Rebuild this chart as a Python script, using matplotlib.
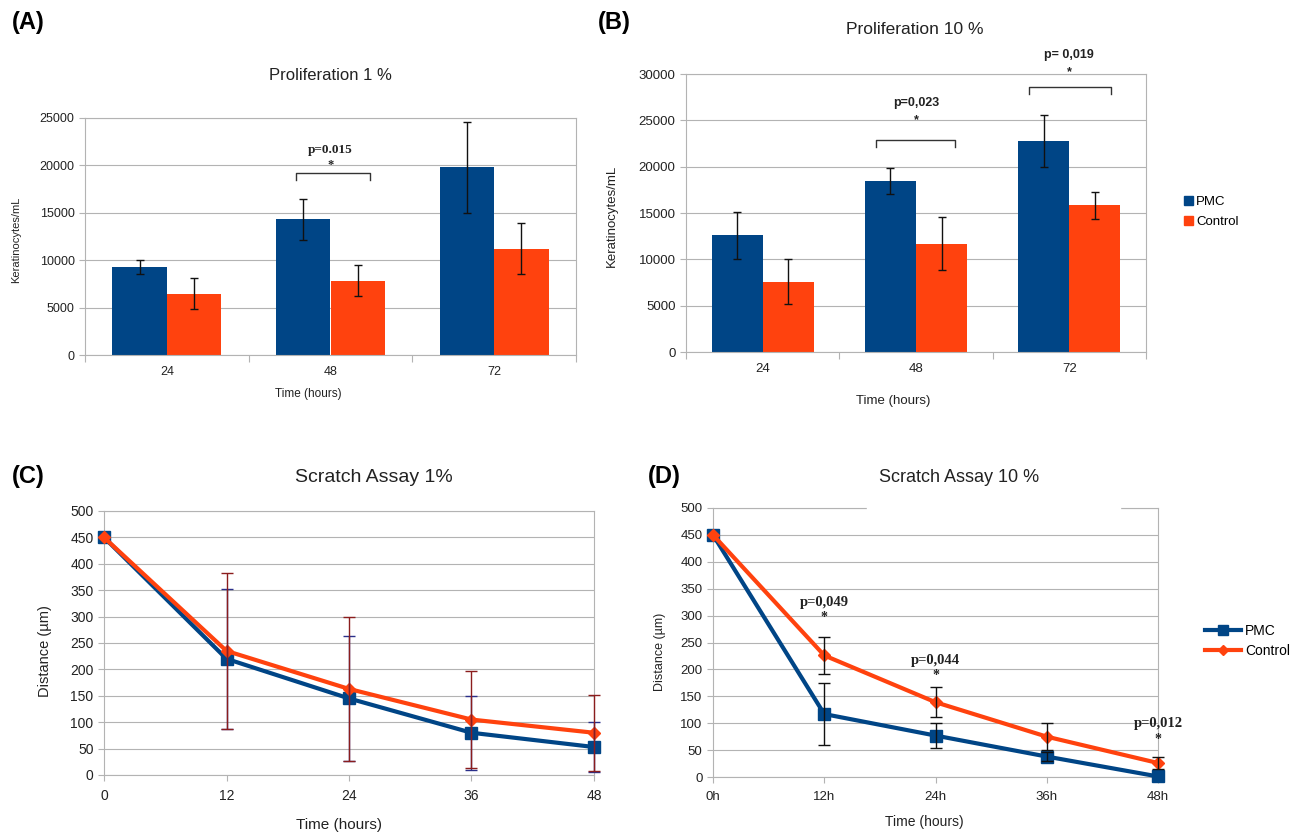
import numpy as np
import matplotlib
matplotlib.use('Agg')
import matplotlib.pyplot as plt
from matplotlib.patches import Patch, Rectangle
from matplotlib.lines import Line2D

plt.rcParams['font.family'] = ['Liberation Sans', 'DejaVu Sans']

W, H = 1293, 834
NAVY = '#004586'
ORANGE = '#ff420e'
GRID = '#b3b3b3'
TXT = '#222222'

# proliferation data (keratinocytes/mL)
prolif_hours = ['24', '48', '72']
pmc_1 = [9250, 14300, 19800]
pmc_1_err = [750, 2200, 4800]
ctrl_1 = [6450, 7850, 11200]
ctrl_1_err = [1650, 1650, 2700]

pmc_10 = [12600, 18450, 22800]
pmc_10_err = [2550, 1450, 2800]
ctrl_10 = [7600, 11700, 15850]
ctrl_10_err = [2450, 2900, 1450]

# scratch assay data (distance, um)
scratch_hours = [0, 12, 24, 36, 48]
scr_pmc_1 = [450, 220, 145, 80, 53]
scr_pmc_1_err = [0, 132, 119, 70, 47]
scr_ctrl_1 = [450, 235, 163, 105, 80]
scr_ctrl_1_err = [0, 147, 136, 92, 72]

scr_labels_10 = ['0h', '12h', '24h', '36h', '48h']
scr_pmc_10 = [450, 117, 77, 38, 1]
scr_pmc_10_err = [0, 58, 23, 9, 0]
scr_ctrl_10 = [450, 226, 139, 75, 26]
scr_ctrl_10_err = [0, 35, 28, 25, 11]

fig = plt.figure(figsize=(W / 100, H / 100), dpi=100)


def px_axes(l, r, t, b):
    return fig.add_axes([l / W, 1 - b / H, (r - l) / W, (b - t) / H])


def style_axes(ax, tick_size):
    for s in ax.spines.values():
        s.set_color(GRID)
        s.set_linewidth(0.8)
    ax.yaxis.grid(True, color=GRID, linewidth=0.8)
    ax.set_axisbelow(True)
    ax.tick_params(axis='both', colors=GRID, labelcolor=TXT, labelsize=tick_size,
                   length=4, width=0.8, direction='out')


def bar_panel(ax, pmc, pmc_err, ctrl, ctrl_err, ymax, tick_size):
    x = np.arange(len(prolif_hours))
    w = 0.333
    ax.bar(x - w / 2, pmc, w, color=NAVY, zorder=2)
    ax.bar(x + w / 2, ctrl, w, color=ORANGE, zorder=2)
    ax.errorbar(x - w / 2, pmc, yerr=pmc_err, fmt='none', ecolor='#111111',
                elinewidth=1, capsize=3, capthick=1, zorder=3)
    ax.errorbar(x + w / 2, ctrl, yerr=ctrl_err, fmt='none', ecolor='#111111',
                elinewidth=1, capsize=3, capthick=1, zorder=3)
    ax.set_xlim(-0.5, len(prolif_hours) - 0.5)
    ax.set_ylim(0, ymax)
    ax.set_yticks(np.arange(0, ymax + 1, 5000))
    ax.set_xticks(x)
    ax.set_xticklabels(prolif_hours)
    ax.set_xticks(np.arange(-0.5, len(prolif_hours)), minor=True)
    style_axes(ax, tick_size)
    ax.tick_params(axis='x', which='major', length=0, pad=8)
    ax.tick_params(axis='x', which='minor', length=5, colors=GRID, width=0.8)


def bracket(ax, xc, x0, x1, ytop, ytip):
    ax.plot([xc + x0, xc + x0, xc + x1, xc + x1], [ytip, ytop, ytop, ytip],
            color='#333333', lw=1, zorder=4, clip_on=False)


# (A) Proliferation 1 %
axA = px_axes(85, 576, 118, 355)
bar_panel(axA, pmc_1, pmc_1_err, ctrl_1, ctrl_1_err, 25000, 9)
bracket(axA, 1, -0.21, 0.24, 19200, 18450)
axA.text(1, 21600, 'p=0.015', ha='center', va='center', fontsize=9.5,
         fontweight='bold', family='Liberation Serif', color='#222222')
axA.text(1, 20000, '*', ha='center', va='center', fontsize=9,
         fontweight='bold', family='Liberation Serif', color='#222222')
fig.text(330 / W, 1 - 76 / H, 'Proliferation 1 %', ha='center', va='center',
         fontsize=12, color=TXT)
fig.text(16 / W, 1 - 240 / H, 'Keratinocytes/mL', ha='center', va='center',
         rotation=90, fontsize=8, color=TXT)
fig.text(308 / W, 1 - 394 / H, 'Time (hours)', ha='center', va='center',
         fontsize=8.5, color=TXT)

# (B) Proliferation 10 %
axB = px_axes(686, 1146, 74, 352)
bar_panel(axB, pmc_10, pmc_10_err, ctrl_10, ctrl_10_err, 30000, 9.5)
bracket(axB, 1, -0.26, 0.255, 22900, 22100)
bracket(axB, 2, -0.26, 0.27, 28600, 27850)
for xc, y_p, y_s, lab in [(1, 26900, 25000, 'p=0,023'), (2, 32050, 30200, 'p= 0,019')]:
    axB.text(xc, y_p, lab, ha='center', va='center', fontsize=9,
             fontweight='bold', color='#222222', clip_on=False)
    axB.text(xc, y_s, '*', ha='center', va='center', fontsize=9,
             fontweight='bold', color='#222222', clip_on=False)
fig.text(915 / W, 1 - 30 / H, 'Proliferation 10 %', ha='center', va='center',
         fontsize=12.5, color=TXT)
fig.text(612 / W, 1 - 216 / H, 'Keratinocytes/mL', ha='center', va='center',
         rotation=90, fontsize=9.5, color=TXT)
fig.text(893 / W, 1 - 401 / H, 'Time (hours)', ha='center', va='center',
         fontsize=9.5, color=TXT)
fig.legend(handles=[Patch(color=NAVY, label='PMC'), Patch(color=ORANGE, label='Control')],
           loc='center left', bbox_to_anchor=(1177 / W, 1 - 212 / H), frameon=False,
           fontsize=9.5, handlelength=0.7, handleheight=0.7, handletextpad=0.25,
           labelspacing=0.6, borderpad=0)

# (C) Scratch Assay 1%
axC = px_axes(104, 594, 511, 775)
axC.plot(scratch_hours, scr_pmc_1, color=NAVY, lw=3, marker='s', ms=9, zorder=3)
axC.plot(scratch_hours, scr_ctrl_1, color=ORANGE, lw=3, marker='D', ms=6.5, zorder=4)
axC.errorbar(scratch_hours[1:], scr_pmc_1[1:], yerr=scr_pmc_1_err[1:], fmt='none',
             ecolor='#2a2f8a', elinewidth=1, capsize=4, capthick=1, zorder=5, clip_on=False)
axC.errorbar(scratch_hours[1:], scr_ctrl_1[1:], yerr=scr_ctrl_1_err[1:], fmt='none',
             ecolor='#8b1d1d', elinewidth=1, capsize=4, capthick=1, zorder=6, clip_on=False)
axC.set_xlim(0, 48)
axC.set_ylim(0, 500)
axC.set_xticks(scratch_hours)
axC.set_yticks(np.arange(0, 501, 50))
style_axes(axC, 10)
axC.tick_params(axis='x', pad=6)
for ln in axC.lines:
    ln.set_clip_on(False)
fig.text(374 / W, 1 - 477 / H, 'Scratch Assay 1%', ha='center', va='center',
         fontsize=14, color=TXT)
fig.text(45 / W, 1 - 651 / H, 'Distance (µm)', ha='center', va='center',
         rotation=90, fontsize=10.5, color=TXT)
fig.text(339 / W, 1 - 825 / H, 'Time (hours)', ha='center', va='center',
         fontsize=11, color=TXT)

# (D) Scratch Assay 10 %
axD = px_axes(713, 1158, 508, 777)
axD.plot(scratch_hours, scr_pmc_10, color=NAVY, lw=3, marker='s', ms=8.5, zorder=3)
axD.plot(scratch_hours, scr_ctrl_10, color=ORANGE, lw=3, marker='D', ms=6, zorder=4)
axD.errorbar(scratch_hours[1:4], scr_pmc_10[1:4], yerr=scr_pmc_10_err[1:4], fmt='none',
             ecolor='#111111', elinewidth=1, capsize=4, capthick=1, zorder=5)
axD.errorbar(scratch_hours[1:], scr_ctrl_10[1:], yerr=scr_ctrl_10_err[1:], fmt='none',
             ecolor='#111111', elinewidth=1, capsize=4, capthick=1, zorder=6, clip_on=False)
axD.set_xlim(0, 48)
axD.set_ylim(0, 500)
axD.set_xticks(scratch_hours)
axD.set_xticklabels(scr_labels_10)
axD.set_yticks(np.arange(0, 501, 50))
style_axes(axD, 9.5)
axD.tick_params(axis='x', pad=6)
for ln in axD.lines:
    ln.set_clip_on(False)
# gap in the top frame line
axD.add_patch(Rectangle(((867 - 713) / 445, 0.99), (1120 - 867) / 445, 0.03,
                        transform=axD.transAxes, color='white', zorder=10, clip_on=False))
for xv, y_p, y_s, lab in [(12, 325, 296, 'p=0,049'), (24, 217, 188, 'p=0,044'),
                          (48, 99, 70, 'p=0,012')]:
    axD.text(xv, y_p, lab, ha='center', va='center', fontsize=10.5, fontweight='bold',
             family='Liberation Serif', color='#222222', clip_on=False, zorder=7)
    axD.text(xv, y_s, '*', ha='center', va='center', fontsize=10, fontweight='bold',
             family='Liberation Serif', color='#222222', clip_on=False, zorder=7)
fig.text(959 / W, 1 - 477 / H, 'Scratch Assay 10 %', ha='center', va='center',
         fontsize=13, color=TXT)
fig.text(660 / W, 1 - 652 / H, 'Distance (µm)', ha='center', va='center',
         rotation=90, fontsize=9, color=TXT)
fig.text(924 / W, 1 - 822 / H, 'Time (hours)', ha='center', va='center',
         fontsize=10, color=TXT)
fig.legend(handles=[Line2D([], [], color=NAVY, lw=3, marker='s', ms=7, label='PMC'),
                    Line2D([], [], color=ORANGE, lw=3, marker='D', ms=5, label='Control')],
           loc='center left', bbox_to_anchor=(1198 / W, 1 - 641 / H), frameon=False,
           fontsize=10, handlelength=2.6, handletextpad=0.3, labelspacing=0.45, borderpad=0)

# panel letters
for lx, ly, lab in [(12, 22, '(A)'), (598, 22, '(B)'), (12, 476, '(C)'), (648, 476, '(D)')]:
    fig.text(lx / W, 1 - ly / H, lab, ha='left', va='center', fontsize=17,
             fontweight='bold', color='black')

fig.savefig('out.png', dpi=100, facecolor='white')
